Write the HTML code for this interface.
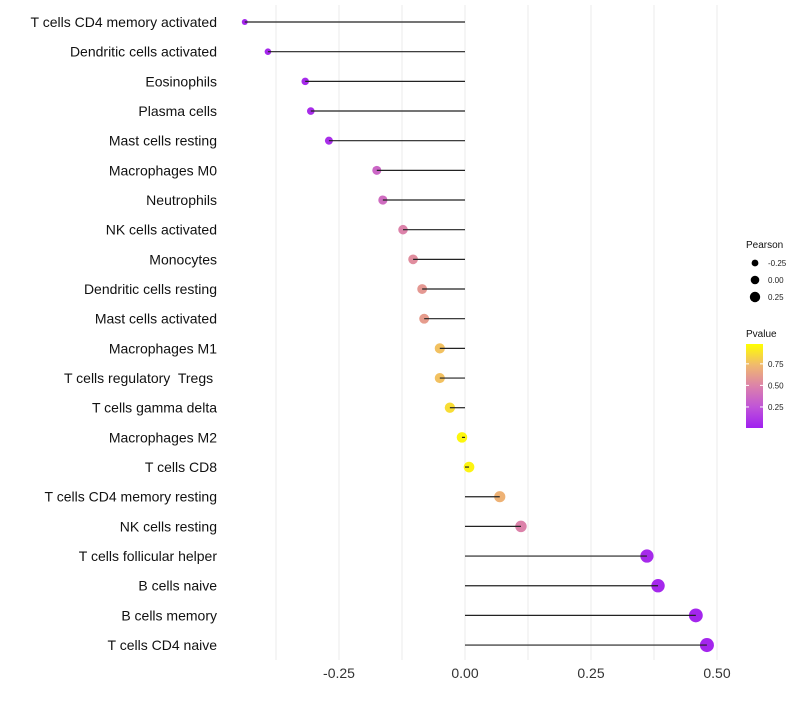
<!DOCTYPE html>
<html><head><meta charset="utf-8"><style>
body{margin:0;background:#fff;font-family:"Liberation Sans",sans-serif}
text{white-space:pre}
</style></head><body>
<svg id="chart" width="800" height="700" xmlns="http://www.w3.org/2000/svg" font-family="Liberation Sans, sans-serif"></svg>
<script>
const categories=["T cells CD4 memory activated","Dendritic cells activated","Eosinophils","Plasma cells","Mast cells resting","Macrophages M0","Neutrophils","NK cells activated","Monocytes","Dendritic cells resting","Mast cells activated","Macrophages M1","T cells regulatory  Tregs ","T cells gamma delta","Macrophages M2","T cells CD8","T cells CD4 memory resting","NK cells resting","T cells follicular helper","B cells naive","B cells memory","T cells CD4 naive"];
const pearson=[-0.437,-0.391,-0.317,-0.306,-0.270,-0.175,-0.163,-0.123,-0.103,-0.085,-0.081,-0.050,-0.050,-0.030,-0.006,0.008,0.069,0.111,0.361,0.383,0.458,0.480];
const pvalues=[0.03,0.04,0.05,0.06,0.07,0.35,0.38,0.5,0.55,0.6,0.62,0.78,0.78,0.88,0.97,0.96,0.72,0.5,0.05,0.04,0.03,0.03];
const xTicks=[-0.25,0,0.25,0.5];
const xTickLabels=["-0.25","0.00","0.25","0.50"];
const legendSizes=[-0.25,0,0.25];
const legendPTicks=[0.25,0.5,0.75];

const svg=document.getElementById('chart');
const NS="http://www.w3.org/2000/svg";
function mk(t,a){const e=document.createElementNS(NS,t);for(const k in a)e.setAttribute(k,a[k]);svg.appendChild(e);return e;}
const x=v=>465+v*504;
const y=i=>22+i*29.67;
const r=v=>Math.sqrt(Math.max(1.7,28+44*v));
const stops=[[0,[160,32,240]],[0.25,[192,84,216]],[0.5,[220,130,170]],[0.75,[240,185,110]],[1,[255,255,0]]];
function col(p){for(let i=0;i<stops.length-1;i++){const[a,ca]=stops[i],[b,cb]=stops[i+1];if(p<=b){const t=(p-a)/(b-a);return`rgb(${ca.map((c,j)=>Math.round(c+(cb[j]-c)*t)).join(',')})`;}}return'rgb(255,255,0)';}
for(let g=-0.375;g<=0.5001;g+=0.125){
const l=mk('line',{x1:x(g),x2:x(g),y1:5,y2:660,stroke:'#ebebeb','stroke-width':1});


}
xTicks.forEach((v,i)=>{
const t=mk('text',{x:x(v),y:678,'text-anchor':'middle','font-size':14,fill:'#333'});
t.textContent=xTickLabels[i];


});
categories.forEach((c,i)=>{
const t=mk('text',{x:217,y:y(i)+5,'text-anchor':'end','font-size':14,fill:'#111'});
t.textContent=c;


const p=mk('circle',{cx:x(pearson[i]),cy:y(i),r:r(pearson[i]),fill:col(pvalues[i])});


const l=mk('line',{x1:x(0),x2:x(pearson[i]),y1:y(i),y2:y(i),stroke:'#222','stroke-width':1.2});


});
let lt=mk('text',{x:746,y:248,'font-size':10,fill:'#111'});lt.textContent='Pearson';


legendSizes.forEach((v,i)=>{
const cy=263+i*17;
const c=mk('circle',{cx:755,cy:cy,r:3.4+i*0.9,fill:'#000'});


const t=mk('text',{x:768,y:cy+3,'font-size':8,fill:'#222'});t.textContent=v===0?'0.00':v.toFixed(2);


});
let pt=mk('text',{x:746,y:337,'font-size':10,fill:'#111'});pt.textContent='Pvalue';


const defs=mk('defs',{});
const lg=document.createElementNS(NS,'linearGradient');lg.setAttribute('id','pg');lg.setAttribute('x1','0');lg.setAttribute('y1','1');lg.setAttribute('x2','0');lg.setAttribute('y2','0');
defs.appendChild(lg);
stops.forEach(([o,c])=>{const s=document.createElementNS(NS,'stop');s.setAttribute('offset',o);s.setAttribute('stop-color',`rgb(${c.join(',')})`);lg.appendChild(s);});
const bar=mk('rect',{x:746,y:344,width:17,height:84,fill:'url(#pg)'});


const py=p=>428-(p-0.006)/0.974*84;
legendPTicks.forEach(v=>{
mk('line',{x1:746,x2:749,y1:py(v),y2:py(v),stroke:'#fff'});
mk('line',{x1:760,x2:763,y1:py(v),y2:py(v),stroke:'#fff'});
const t=mk('text',{x:768,y:py(v)+3,'font-size':8,fill:'#222'});t.textContent=v.toFixed(2);


});
</script>
</body></html>
